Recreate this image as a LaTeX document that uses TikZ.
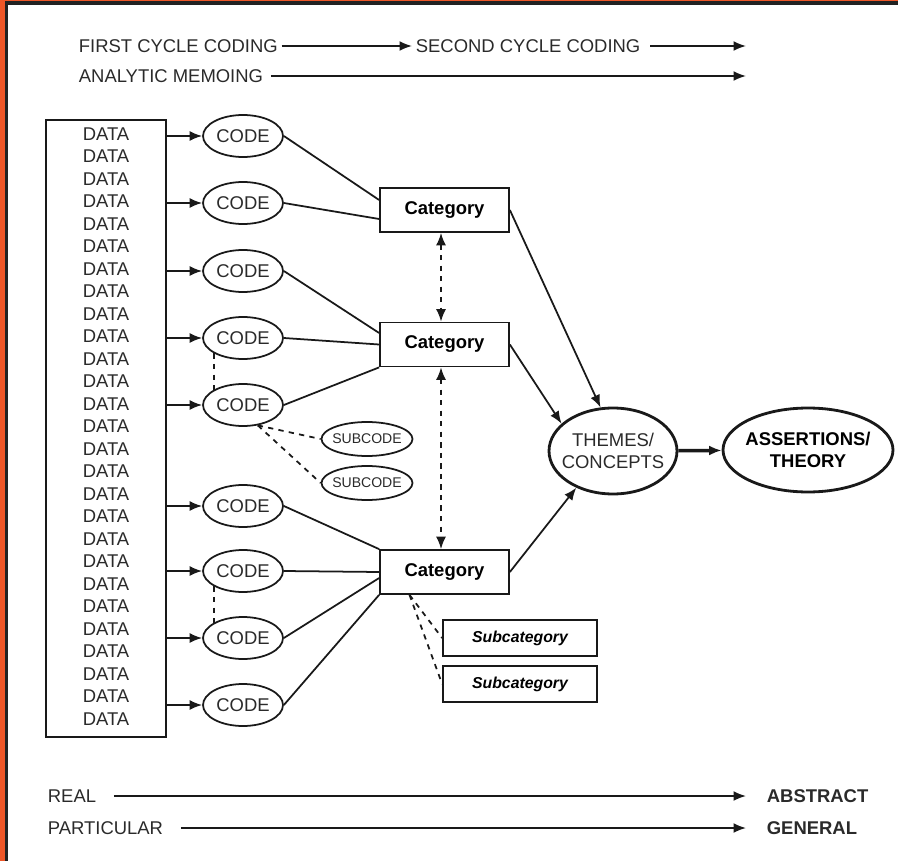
\documentclass[tikz,border=0pt]{standalone}
\usepackage{fontspec}
\setmainfont{Liberation Sans}
\usetikzlibrary{shapes.geometric,arrows.meta}
\definecolor{framered}{HTML}{EE5627}
\definecolor{framedark}{HTML}{222222}
\definecolor{ink}{HTML}{2A2A2A}
\newcommand{\mainsize}{\fontsize{10.5pt}{12.6pt}\selectfont}

\begin{document}
\begin{tikzpicture}[
		x=0.02cm, y=-0.02cm,
		>={Latex[length=2.5mm,width=2mm]},
		line width=1pt, draw=black!90,
		txt/.style={inner sep=0.06cm, text=ink, font=\mainsize},
		datatxt/.style={inner sep=0pt, text=ink, font=\mainsize},
		codenode/.style={ellipse, draw, inner sep=0pt, minimum width=1.6cm, minimum height=0.84cm, text=ink, font=\mainsize},
		subcodenode/.style={ellipse, draw, inner xsep=-1.5mm, inner ysep=0pt, minimum width=1.82cm, minimum height=0.68cm, text=ink, font=\fontsize{8pt}{9.6pt}\selectfont},
		catnode/.style={rectangle, draw, minimum width=2.58cm, minimum height=0.88cm, font=\mainsize\bfseries},
		subcatnode/.style={rectangle, draw, minimum width=3.08cm, minimum height=0.73cm, font=\fontsize{9pt}{11pt}\selectfont\bfseries\itshape},
		bigellipse/.style={ellipse, draw, line width=1.6pt, inner ysep=0pt, align=center, font=\mainsize},
	]
	\useasboundingbox (0,0) rectangle (898,861);
	% screenshot frame
	\fill[framered] (0,0) rectangle (4.5,861);
	\fill[framered] (0,0) rectangle (898,1.2);
	\fill[framedark] (4.5,1.2) rectangle (8.3,861);
	\fill[framedark] (4.5,1.2) rectangle (898,5);

	% cycles along the top
	\coordinate (tipx) at (746,0);
	\node[txt, anchor=west] (first) at (75,46) {FIRST CYCLE CODING};
	\node[txt, anchor=west] (second) at (412,46) {SECOND CYCLE CODING};
	\node[txt, anchor=west] (memo) at (75,76) {ANALYTIC MEMOING};
	\draw[->] (first) -- (second);
	\draw[->, shorten <=0.12cm] (second) -- (second -| tipx);
	\draw[->, shorten <=0.08cm] (memo) -- (memo -| tipx);

	% data column
	\node[draw, minimum width=2.4cm, minimum height=12.34cm] (databox) at (106,428.5) {};
	\foreach \k in {1,...,27}
		\node[datatxt] (d\k) at (106,{111.5+22.5*\k}) {DATA};

	% codes
	\foreach \k/\y in {1/136,2/203,3/271,4/338,5/405,6/506,7/571,8/638,9/705} {
		\node[codenode] (c\k) at (243,\y) {CODE};
		\draw[->] (databox.east |- c\k) -- (c\k);
	}
	\draw[dashed] (c4.208) -- (c5.152);
	\draw[dashed] (c7.208) -- (c8.152);

	% subcodes
	\node[subcodenode] (sc1) at (367,439) {SUBCODE};
	\node[subcodenode] (sc2) at (367,483) {SUBCODE};
	\draw[dashed] (c5.306) -- (sc1.west);
	\draw[dashed] (c5.306) -- (sc2.west);

	% categories
	\node[catnode] (cat1) at (444.5,210) {Category};
	\node[catnode] (cat2) at (444.5,344.5) {Category};
	\node[catnode] (cat3) at (444.5,572) {Category};
	\draw (c1.east) -- ([yshift=2mm]cat1.west);
	\draw (c2.east) -- ([yshift=-1.8mm]cat1.west);
	\draw (c3.east) -- ([yshift=2.3mm]cat2.west);
	\draw (c4.east) -- (cat2.west);
	\draw (c5.east) -- (cat2.south west);
	\draw (c6.east) -- (cat3.north west);
	\draw (c7.east) -- (cat3.west);
	\draw (c8.east) -- ([yshift=-1.2mm]cat3.west);
	\draw (c9.east) -- (cat3.south west);
	\draw[<->, dashed] ([xshift=-0.7mm]cat1.south) -- ([xshift=-0.7mm]cat2.north);
	\draw[<->, dashed] ([xshift=-0.7mm]cat2.south) -- ([xshift=-0.7mm]cat3.north);

	% subcategories
	\node[subcatnode] (sub1) at (520,638) {Subcategory};
	\node[subcatnode] (sub2) at (520,684) {Subcategory};
	\draw[dashed] ([xshift=-7mm]cat3.south) -- (sub1.west);
	\draw[dashed] ([xshift=-7mm]cat3.south) -- (sub2.west);

	% themes and theory
	\node[bigellipse, inner xsep=-4mm, minimum width=2.56cm, minimum height=1.72cm, text=ink] (themes) at (613,451) {THEMES/\\CONCEPTS};
	\node[bigellipse, inner xsep=-2mm, minimum width=3.4cm, minimum height=1.68cm, font=\mainsize\bfseries] (theory) at (808,450) {ASSERTIONS/\\THEORY};
	\draw[->] (cat1.east) -- (themes.106);
	\draw[->] (cat2.east) -- (themes.152);
	\draw[->] (cat3.east) -- (themes.225);
	\draw[->, line width=2pt] (themes) -- (theory);

	% scales along the bottom
	\node[txt, anchor=west] (real) at (44,796) {REAL};
	\node[txt, anchor=west, font=\mainsize\bfseries] (abstract) at (763,796) {ABSTRACT};
	\node[txt, anchor=west] (partic) at (44,828) {PARTICULAR};
	\node[txt, anchor=west, font=\mainsize\bfseries] (general) at (763,828) {GENERAL};
	\draw[->, shorten <=0.28cm] (real) -- (real -| tipx);
	\draw[->, shorten <=0.28cm] (partic) -- (partic -| tipx);
\end{tikzpicture}
\end{document}
